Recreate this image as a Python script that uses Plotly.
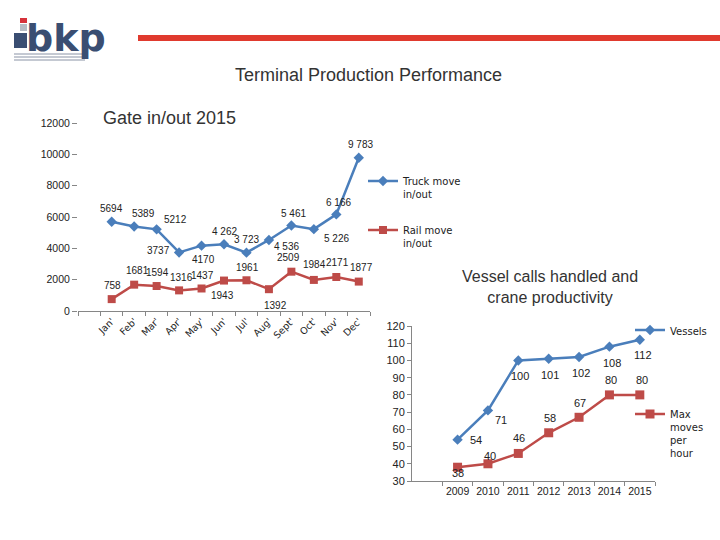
import plotly.graph_objects as go

# ---------------- data ----------------
months = ["Jan'", "Feb'", "Mar'", "Apr'", "May'", "Jun'", "Jul'", "Aug'", "Sept'", "Oct'", "Nov'", "Dec'"]
truck_moves = [5694, 5389, 5212, 3737, 4170, 4262, 3723, 4536, 5461, 5226, 6166, 9783]
truck_labels = ["5694", "5389", "5212", "3737", "4170", "4 262", "3 723", "4 536", "5 461", "5 226", "6 166", "9 783"]
rail_moves = [758, 1681, 1594, 1316, 1437, 1943, 1961, 1392, 2509, 1984, 2171, 1877]
gate_ticks = [0, 2000, 4000, 6000, 8000, 10000, 12000]

years = ["2009", "2010", "2011", "2012", "2013", "2014", "2015"]
vessels = [54, 71, 100, 101, 102, 108, 112]
max_moves = [38, 40, 46, 58, 67, 80, 80]
vessel_ticks = [30, 40, 50, 60, 70, 80, 90, 100, 110, 120]

# ---------------- label offsets (px, style only) ----------------
truck_off = [(0, -13), (9, -13), (19, -10), (-21, -2), (2, 14), (0, -13), (0, -13),
             (18, 7), (2, -12), (23, 9), (2, -12), (2, -13)]
rail_off = [(1, -14), (3, -14), (1, -14), (2, -13), (1, -13), (-2, 15), (1, -13),
            (7, 16), (-3, -14), (1, -15), (1, -14), (3, -14)]
vessel_off = [(18, 0), (13, 10), (2, 16), (1, 16), (2, 16), (3, 16), (3, 15)]
moves_off = [(0, 6), (2, -8), (1, -15), (1, -15), (1, -14), (2, -15), (2, -15)]

BLUE = "#4A7EBB"
RED = "#BE4B48"
TXT = "#222222"
LBL_FONT = dict(family="Liberation Sans, Arial", size=10, color=TXT)

W, H = 720, 540
def px(x):
    return x / W
def py(y):
    return 1 - y / H

mx = list(range(1, len(months) + 1))
yx = list(range(1, len(years) + 1))

fig = go.Figure()

fig.add_trace(go.Scatter(x=mx, y=truck_moves, mode="lines+markers", name="Truck move<br>in/out",
                         line=dict(color=BLUE, width=2.5), marker=dict(symbol="diamond", size=8, color=BLUE),
                         xaxis="x", yaxis="y", legend="legend", legendgroup="a"))
fig.add_trace(go.Scatter(x=mx, y=rail_moves, mode="lines+markers", name="Rail move<br>in/out",
                         line=dict(color=RED, width=2.5), marker=dict(symbol="square", size=8, color=RED),
                         xaxis="x", yaxis="y", legend="legend", legendgroup="b"))
fig.add_trace(go.Scatter(x=yx, y=vessels, mode="lines+markers", name="Vessels",
                         line=dict(color=BLUE, width=2.5), marker=dict(symbol="diamond", size=8, color=BLUE),
                         xaxis="x2", yaxis="y2", legend="legend2", legendgroup="c"))
fig.add_trace(go.Scatter(x=yx, y=max_moves, mode="lines+markers", name="Max<br>moves<br>per<br>hour",
                         line=dict(color=RED, width=2.5), marker=dict(symbol="square", size=9, color=RED),
                         xaxis="x2", yaxis="y2", legend="legend2", legendgroup="d"))

ann = []
for i, (v, t) in enumerate(zip(truck_moves, truck_labels)):
    dx, dy = truck_off[i]
    ann.append(dict(x=mx[i], y=v, xref="x", yref="y", text=t, showarrow=False,
                    xshift=dx, yshift=-dy, font=LBL_FONT))
for i, v in enumerate(rail_moves):
    dx, dy = rail_off[i]
    ann.append(dict(x=mx[i], y=v, xref="x", yref="y", text=str(v), showarrow=False,
                    xshift=dx, yshift=-dy, font=LBL_FONT))
for i, v in enumerate(vessels):
    dx, dy = vessel_off[i]
    ann.append(dict(x=yx[i], y=v, xref="x2", yref="y2", text=str(v), showarrow=False,
                    xshift=dx, yshift=-dy, font=dict(family="Liberation Sans, Arial", size=11, color=TXT)))
for i, v in enumerate(max_moves):
    dx, dy = moves_off[i]
    ann.append(dict(x=yx[i], y=v, xref="x2", yref="y2", text=str(v), showarrow=False,
                    xshift=dx, yshift=-dy, font=dict(family="Liberation Sans, Arial", size=11, color=TXT)))

# titles
ann.append(dict(x=px(368), y=py(75), xref="paper", yref="paper", xanchor="center", yanchor="middle",
                text="Terminal Production Performance",
                showarrow=False, font=dict(family="Liberation Sans, Arial", size=18, color="#333333")))
ann.append(dict(x=px(101), y=py(118), xref="paper", yref="paper", xanchor="left", yanchor="middle",
                text="Gate in/out 2015",
                showarrow=False, font=dict(family="Liberation Sans, Arial", size=18, color="#333333")))
ann.append(dict(x=px(550), y=py(287), xref="paper", yref="paper", xanchor="center", yanchor="middle",
                text="Vessel calls handled and<br>crane productivity",
                showarrow=False, font=dict(family="Liberation Sans, Arial", size=16, color="#333333")))
# logo text
ann.append(dict(x=px(24), y=py(38), xref="paper", yref="paper", xanchor="left", yanchor="middle",
                text="<b>bkp</b>", showarrow=False,
                font=dict(family="DejaVu Sans", size=38, color="#3A4E72")))

shapes = [
    # red header bar
    dict(type="rect", xref="paper", yref="paper", x0=px(138), x1=px(720), y0=py(41), y1=py(35),
         fillcolor="#E03A2E", line=dict(width=0)),
    # logo "i"
    dict(type="rect", xref="paper", yref="paper", x0=px(20), x1=px(27), y0=py(23), y1=py(18),
         fillcolor="#D6323A", line=dict(width=0)),
    dict(type="rect", xref="paper", yref="paper", x0=px(20), x1=px(27), y0=py(31), y1=py(24),
         fillcolor="#B8BCC4", line=dict(width=0)),
    dict(type="rect", xref="paper", yref="paper", x0=px(14), x1=px(27), y0=py(48), y1=py(33),
         fillcolor="#3A4E72", line=dict(width=0)),
]
for k in range(3):
    yy = 54 + k * 3
    shapes.append(dict(type="line", xref="paper", yref="paper", x0=px(14), x1=px(85),
                       y0=py(yy), y1=py(yy), line=dict(color="#8A93A6", width=1)))

axis_grey = "#868686"
fig.update_layout(
    width=W, height=H, margin=dict(l=0, r=0, t=0, b=0, autoexpand=False),
    paper_bgcolor="white", plot_bgcolor="rgba(0,0,0,0)",
    annotations=ann, shapes=shapes,
    xaxis=dict(domain=[px(78), px(370)], range=[-0.5, 12.5], tickmode="array", tickvals=mx, ticktext=months,
               tickangle=-45, showgrid=False, zeroline=False, showline=True, linecolor=axis_grey, linewidth=1,
               ticks="", tickfont=dict(family="DejaVu Sans", size=9.5, color=TXT), automargin=False,
               minor=dict(ticks="outside", tickvals=[i + 0.5 for i in range(-1, 13)], ticklen=4,
                          tickcolor=axis_grey, showgrid=False),
               anchor="y", fixedrange=True),
    yaxis=dict(domain=[py(311), py(123)], range=[0, 12000], tickmode="array",
               tickvals=gate_ticks, ticktext=[str(t) for t in gate_ticks],
               showgrid=False, zeroline=False, showline=False, automargin=False,
               ticks="outside", ticklen=5, tickcolor=axis_grey,
               tickfont=dict(family="Liberation Sans, Arial", size=10.5, color=TXT),
               anchor="x", fixedrange=True),
    xaxis2=dict(domain=[px(412), px(655)], range=[-0.5, 7.5], tickmode="array", tickvals=yx, ticktext=years,
                tickangle=0, showgrid=False, zeroline=False, showline=True, linecolor=axis_grey, linewidth=1,
                ticks="", tickfont=dict(family="Liberation Sans, Arial", size=10.5, color=TXT), automargin=False,
                minor=dict(ticks="outside", tickvals=[i + 0.5 for i in range(0, 8)], ticklen=4,
                           tickcolor=axis_grey, showgrid=False),
                anchor="y2", fixedrange=True),
    yaxis2=dict(domain=[py(481), py(326)], range=[30, 120], tickmode="array",
                tickvals=vessel_ticks, ticktext=[str(t) for t in vessel_ticks],
                showgrid=False, zeroline=False, showline=True, automargin=False,
                linecolor=axis_grey, ticks="outside", ticklen=4, tickcolor=axis_grey,
                tickfont=dict(family="Liberation Sans, Arial", size=11, color=TXT),
                anchor="x2", fixedrange=True),
    legend=dict(x=px(363), y=py(168), xanchor="left", yanchor="top", bgcolor="rgba(0,0,0,0)",
                font=dict(family="DejaVu Sans", size=10, color=TXT), valign="top",
                tracegroupgap=20, itemwidth=30),
    legend2=dict(x=px(630), y=py(317), xanchor="left", yanchor="top", bgcolor="rgba(0,0,0,0)",
                 font=dict(family="DejaVu Sans", size=10, color=TXT), valign="top",
                 tracegroupgap=65, itemwidth=30),
    showlegend=True,
)

fig.write_html("out.html", config={"displayModeBar": False},
               post_script="document.body.style.margin='0';")
